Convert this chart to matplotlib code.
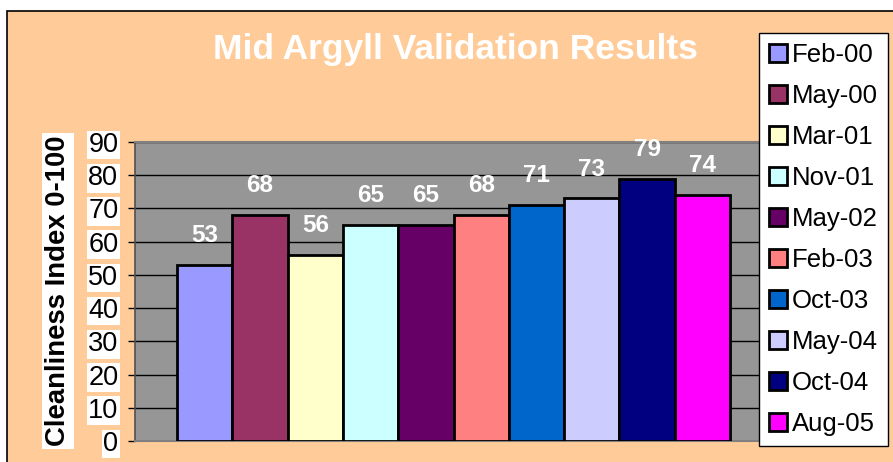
import matplotlib
matplotlib.use("Agg")
import matplotlib.pyplot as plt
import matplotlib.patches as patches

dates = ["Feb-00", "May-00", "Mar-01", "Nov-01", "May-02",
         "Feb-03", "Oct-03", "May-04", "Oct-04", "Aug-05"]
scores = [53, 68, 56, 65, 65, 68, 71, 73, 79, 74]
colors = ["#9999FF", "#993366", "#FFFFCC", "#CCFFFF", "#660066",
          "#FF8080", "#0066CC", "#CCCCFF", "#000080", "#FF00FF"]
yticks = [0, 10, 20, 30, 40, 50, 60, 70, 80, 90]

plt.rcParams['font.family'] = ['Liberation Sans', 'DejaVu Sans']

fig = plt.figure(figsize=(8.93, 4.62), dpi=100)
fig.patch.set_facecolor("white")

# peach chart area with black border
bg = patches.Rectangle((0.0078, -0.01), 1.02, 0.986, transform=fig.transFigure,
                       facecolor="#FFCC99", edgecolor="black", linewidth=1.2, zorder=0)
fig.patches.append(bg)

ax = fig.add_axes([0.1512, 0.0455, 0.7133, 0.6471])
ax.set_facecolor("#969696")
ax.set_zorder(1)

bars = []
for i, (d, v, c) in enumerate(zip(dates, scores, colors)):
    b = ax.bar(i, v, width=1.0, color=c, edgecolor="black", linewidth=2.0,
               label=d, zorder=3)
    bars.append(b)
    ax.text(i, v + 8.8, str(v), ha="center", va="center", color="white",
            fontsize=17.5, fontweight="bold", zorder=4)

ax.set_xlim(-1.26, 10.26)
ax.set_ylim(0, 90)
ax.set_yticks(yticks)
ax.set_xticks([])
ax.yaxis.grid(True, color="black", linewidth=1.0, zorder=1)
ax.set_axisbelow(True)
for s in ["top", "right", "bottom"]:
    ax.spines[s].set_color("#808080")
    ax.spines[s].set_linewidth(1.5)
ax.spines["left"].set_color("#505050")
ax.spines["left"].set_linewidth(1.2)
ax.tick_params(axis="y", length=5, width=1, color="black", pad=7, labelsize=19.5)
for lab in ax.get_yticklabels():
    lab.set_bbox(dict(facecolor="white", edgecolor="none", pad=1))

fig.text(0.5095, 0.893, "Mid Argyll Validation Results", ha="center", va="center",
         color="white", fontsize=25.5, fontweight="bold")

fig.text(0.065, 0.37, "Cleanliness Index 0-100", rotation=90, ha="center", va="center",
         fontsize=19.8, fontweight="bold", color="black",
         bbox=dict(facecolor="white", edgecolor="none", pad=2))

leg = fig.legend(handles=bars, labels=dates, loc="upper left",
                 bbox_to_anchor=(0.850, 0.9286), fontsize=18.5, frameon=True,
                 fancybox=False, edgecolor="black", framealpha=1,
                 handlelength=0.68, handleheight=0.68, handletextpad=0.2,
                 labelspacing=0.66, borderpad=0.4, borderaxespad=0)
leg.get_frame().set_linewidth(1.0)
leg.set_zorder(5)

fig.savefig("out.png", dpi=100)
